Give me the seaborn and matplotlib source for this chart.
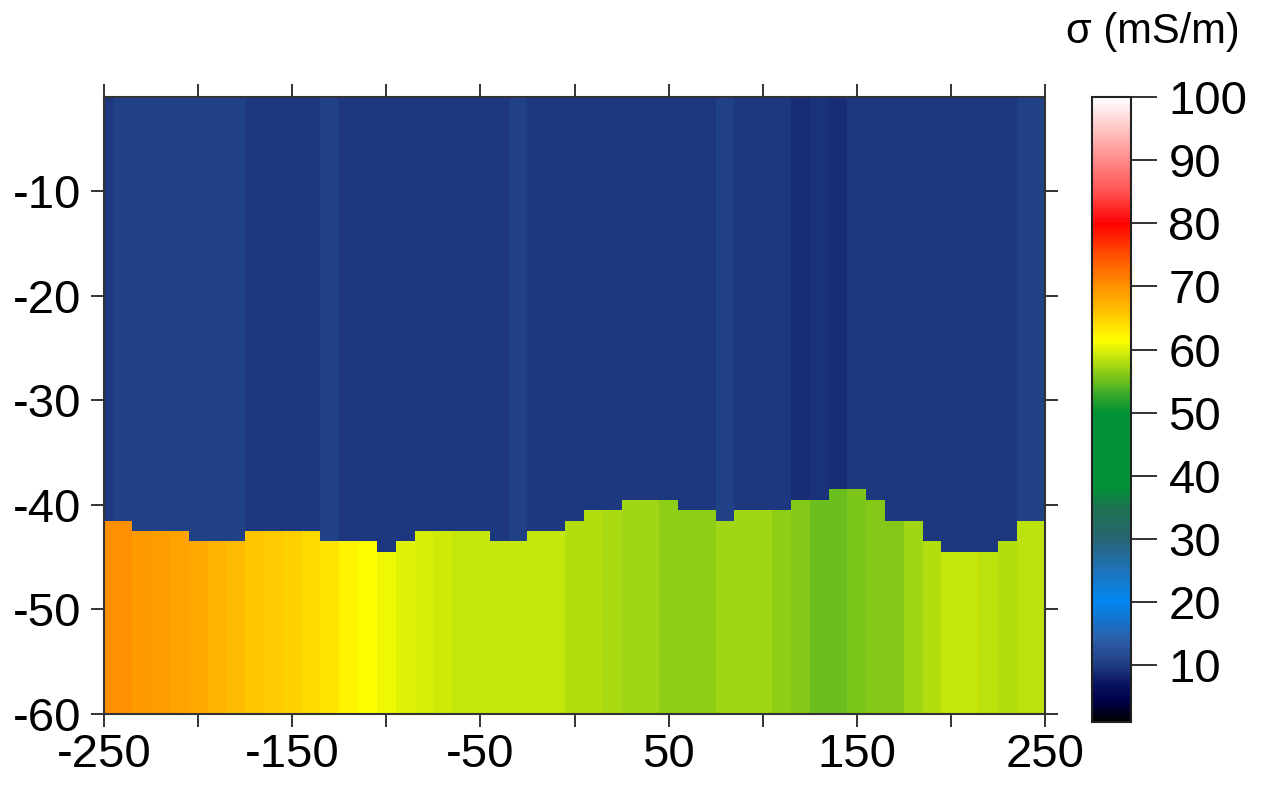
import numpy as np
import pandas as pd
import matplotlib
matplotlib.use('Agg')
import matplotlib.pyplot as plt
from matplotlib.colors import LinearSegmentedColormap
from matplotlib.ticker import FixedLocator
import seaborn as sns

# section grid: stations along the profile (m) and depth nodes (m)
positions = list(range(-250, 251, 10))
depths = list(range(1, 61))

# conductivity of the upper layer at each station (mS/m)
upper_sigma = [9.6,
               10.6, 10.6, 10.6, 10.6, 10.6, 10.6, 10.6,
               9.6, 9.6, 9.6, 9.6,
               10.6,
               9.6, 9.6, 9.6, 9.6, 9.6, 9.6, 9.6, 9.6, 9.6,
               10.6,
               9.6, 9.6, 9.6, 9.6, 9.6, 9.6, 9.6, 9.6, 9.6, 9.6,
               10.6,
               9.6, 9.6, 9.6,
               8.8, 9.3, 8.8,
               9.6, 9.6, 9.6, 9.6, 9.6, 9.6, 9.6, 9.6, 9.6,
               10.6, 10.6]

# conductivity of the lower layer at each station (mS/m)
lower_sigma = [70.0, 70.0, 69.2, 68.8, 68.4, 68.0, 67.2, 66.4, 65.6, 65.3,
               64.9, 64.1, 63.4, 62.3, 61.5, 60.6, 59.9, 59.45, 59.2,
               58.8, 58.8, 58.8, 58.8, 58.8, 58.8,
               58.2, 57.9, 57.7, 57.1, 57.1, 56.6, 56.6, 56.6, 57.3, 57.3,
               57.3, 56.4, 56.0, 55.1, 55.1, 55.6, 56.0, 56.2, 57.3, 58.1,
               58.8, 58.8, 58.6, 58.2, 58.5, 58.5]

# depth of the interface between the two layers (m)
interface_depth = [41.5, 41.5, 42.5, 42.5, 42.5, 43.5, 43.5, 43.5, 42.5, 42.5,
                   42.5, 42.5, 43.5, 43.5, 43.5, 44.5, 43.5, 42.5, 42.5, 42.5,
                   42.5, 43.5, 43.5, 42.5, 42.5, 41.5, 40.5, 40.5, 39.5, 39.5,
                   39.5, 40.5, 40.5, 41.5, 40.5, 40.5, 40.5, 39.5, 39.5, 38.5,
                   38.5, 39.5, 41.5, 41.5, 43.5, 44.5, 44.5, 44.5, 43.5, 41.5,
                   41.5]

# colour scale (value -> colour)
cmap_values = [1, 4, 7, 10, 14, 20, 25, 30, 35, 38, 50, 53, 56, 59, 61.5,
               66, 70, 75, 80, 85, 92, 100]
cmap_colours = ['#000000', '#000046', '#0a1464', '#203e84', '#2d5faa',
                '#0087f0', '#1e73b9', '#286473', '#1e7350', '#009137',
                '#009137', '#3caa28', '#82c819', '#c8e80a', '#ffff00',
                '#ffc300', '#ff9100', '#ff5000', '#ff0000', '#ff5050',
                '#ffa0a0', '#ffffff']

vmin, vmax = 1, 100
cmap = LinearSegmentedColormap.from_list(
    'sigma', [((v - vmin) / (vmax - vmin), c) for v, c in zip(cmap_values, cmap_colours)])

d = np.array(depths)[:, None]
grid = np.where(d < np.array(interface_depth)[None, :],
                np.array(upper_sigma)[None, :], np.array(lower_sigma)[None, :])
df = pd.DataFrame(grid, index=[-x for x in depths], columns=positions)

sns.set_style('white')
plt.rcParams['font.family'] = ['Liberation Sans', 'DejaVu Sans']
plt.rcParams.update({'text.color': 'black', 'xtick.color': 'black',
                     'ytick.color': 'black', 'axes.labelcolor': 'black'})

fig = plt.figure(figsize=(12.71, 7.85), dpi=100)
ax = fig.add_axes([104 / 1271, 71 / 785, 941 / 1271, 617 / 785])
cax = fig.add_axes([1092 / 1271, 63 / 785, 39 / 1271, 625 / 785])

sns.heatmap(df, ax=ax, cbar_ax=cax, cmap=cmap, vmin=vmin, vmax=vmax,
            xticklabels=False, yticklabels=False, linewidths=0, rasterized=True)

ax.set_xlim(0.5, len(positions) - 0.5)
ax.set_ylim(len(depths) - 0.5, 0.5)
ax.set_xlabel('')
ax.set_ylabel('')

xlab = [-250, -150, -50, 50, 150, 250]
xminor = [-200, -100, 0, 100, 200]
ylab = [-10, -20, -30, -40, -50, -60]
ax.xaxis.set_major_locator(FixedLocator([positions.index(v) + 0.5 for v in xlab]))
ax.xaxis.set_minor_locator(FixedLocator([positions.index(v) + 0.5 for v in xminor]))
ax.set_xticklabels([str(v) for v in xlab])
ax.yaxis.set_major_locator(FixedLocator([depths.index(-v) + 0.5 for v in ylab]))
ax.set_yticklabels([str(v) for v in ylab], rotation=0)

ax.tick_params(which='both', direction='out', length=9.5, width=1.3, color='#222222',
               top=True, right=True, bottom=True, left=True,
               labeltop=False, labelright=False, labelsize=34, labelcolor='black')
ax.tick_params(axis='x', pad=4)
ax.tick_params(axis='y', pad=7)
for s in ax.spines.values():
    s.set_visible(True)
    s.set_linewidth(1.5)
    s.set_color('#333333')

cbar = ax.collections[0].colorbar
cbar.set_ticks(list(range(10, 101, 10)))
cbar.outline.set_visible(True)
cbar.outline.set_linewidth(1.5)
cbar.outline.set_edgecolor('#222222')
cax.tick_params(length=19, width=1.3, color='#222222', labelsize=34, pad=8,
                labelcolor='black')

fig.text(1153 / 1271, 1 - 32 / 785, 'σ (mS/m)', ha='center', va='center',
         fontsize=30, color='black')

fig.savefig('out.png', dpi=100)
